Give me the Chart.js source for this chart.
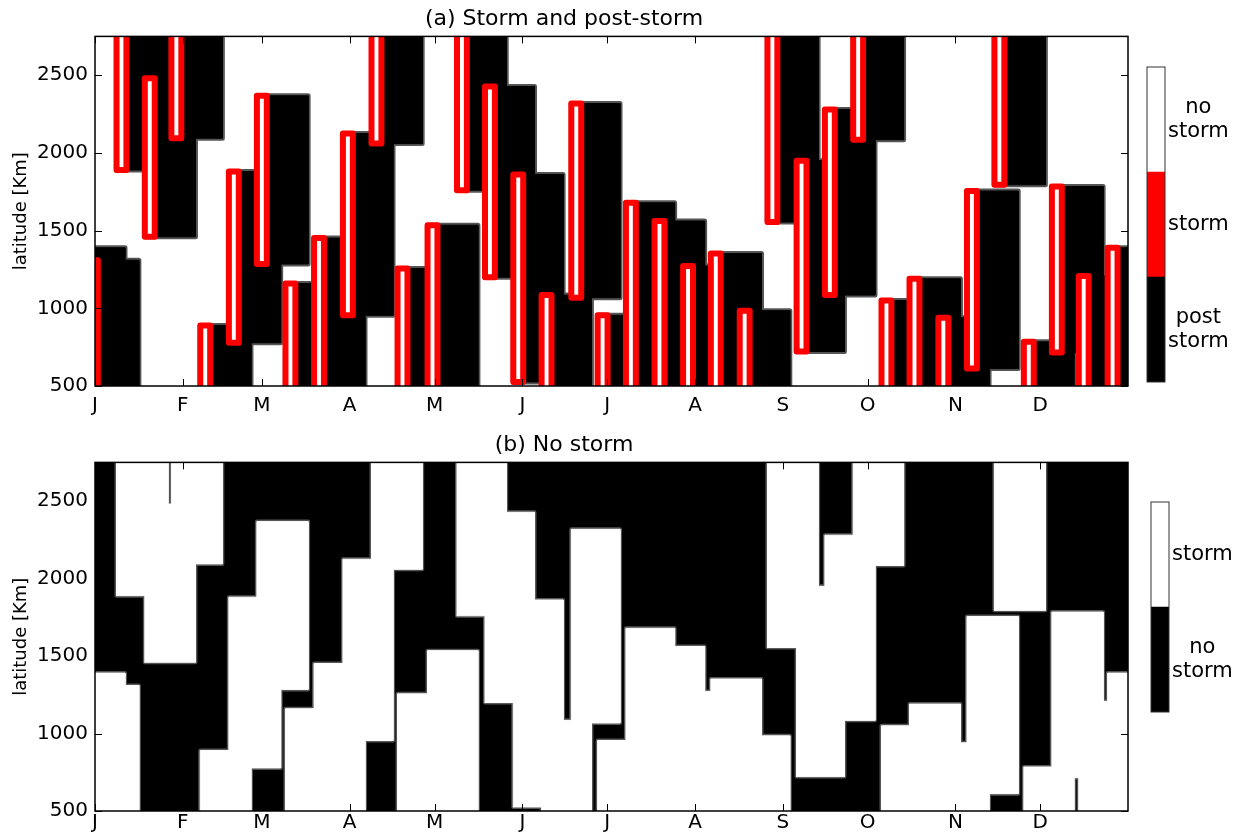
<!DOCTYPE html>
<html>
<head>
<meta charset="utf-8">
<script src="https://cdn.jsdelivr.net/npm/chart.js@4.4.1/dist/chart.umd.min.js"></script>
<style>
html,body{margin:0;padding:0;background:#fff;}
#wrap{position:relative;width:1247px;height:838px;background:#fff;overflow:hidden;}
canvas{position:absolute;}
</style>
</head>
<body>
<div id="wrap">
<canvas id="ca" width="1140" height="426" style="left:0px;top:0px"></canvas>
<canvas id="cb" width="1140" height="412" style="left:0px;top:426px"></canvas>
<canvas id="cba" width="107" height="375" style="left:1140px;top:37px"></canvas>
<canvas id="cbb" width="103" height="270" style="left:1144px;top:472px"></canvas>
</div>
<script>
// ---------------- data ----------------
const monthDays   = [0, 31, 59, 90, 120, 151, 181, 212, 243, 273, 304, 334];
const monthLabels = ['J','F','M','A','M','J','J','A','S','O','N','D'];
const latTicks    = [500, 1000, 1500, 2000, 2500];

// storms (day of year, latitude in km) and end of post-storm period (day)
const stormStart = [0, 7.6, 17.6, 27.0, 37.2, 47.3, 57.2, 67.3, 77.4, 87.6, 97.7, 106.9, 117.5, 127.9, 137.8, 147.8, 157.8, 168.3, 177.6, 187.6, 197.7, 207.8, 217.6, 227.8, 237.6, 247.9, 257.9, 267.9, 277.9, 287.8, 298.0, 308.1, 317.8, 328.2, 338.1, 347.6, 357.8];
const stormEnd   = [1.0, 11.1, 21.1, 30.5, 40.7, 50.8, 60.7, 70.8, 80.9, 91.1, 101.2, 110.4, 121.0, 131.4, 141.3, 151.3, 161.3, 171.8, 181.1, 191.1, 201.2, 211.3, 221.1, 231.3, 241.1, 251.4, 261.4, 271.4, 281.4, 291.3, 301.5, 311.6, 321.3, 331.7, 341.6, 351.1, 361.3];
const stormLatLo = [500, 1890, 1460, 2095, 500, 778, 1285, 500, 500, 955, 2060, 500, 500, 1760, 1200, 526, 500, 1068, 500, 500, 500, 500, 500, 500, 1555, 722, 1085, 2085, 500, 500, 500, 612, 1795, 500, 715, 500, 500];
const stormLatHi = [1310, 2750, 2481, 2750, 890, 1880, 2368, 1160, 1452, 2125, 2750, 1256, 1535, 2750, 2428, 1862, 1085, 2318, 955, 1679, 1562, 1272, 1352, 985, 2750, 1950, 2280, 2750, 1050, 1190, 940, 1755, 2750, 784, 1784, 1208, 1390];
const postEnd    = [15.5, 25.8, 35.5, 45.0, 55.1, 65.6, 75.3, 85.5, 95.4, 105.3, 115.6, 125.0, 135.3, 145.3, 155.3, 165.4, 175.4, 185.5, 196.0, 204.8, 215.4, 225.0, 235.5, 245.5, 255.5, 264.8, 275.6, 285.7, 296.0, 305.8, 315.9, 326.2, 335.8, 345.9, 356.2, 366.0, 375.6];

const cbLabelsA = [['post','storm'], 'storm', ['no','storm']];
const cbColorsA = ['#000000', '#ff0000', '#ffffff'];
const cbLabelsB = [['no','storm'], 'storm'];
const cbColorsB = ['#000000', '#ffffff'];

const X_MIN = 0, X_MAX = 365, Y_MIN = 500, Y_MAX = 2750;

// ---------------- helpers ----------------
Chart.defaults.font.family = "'DejaVu Sans', 'Liberation Sans', sans-serif";
Chart.defaults.color = '#000';

function rectPts(x0, x1, y0, y1) {
  return [{x:x0,y:y0},{x:x0,y:y1},{x:x1,y:y1},{x:x1,y:y0},{x:x0,y:y0}];
}
function extLat(lo, hi) { // push edges that sit on the frame outside so they are clipped
  return [lo <= Y_MIN ? Y_MIN - 200 : lo, hi >= Y_MAX ? Y_MAX + 200 : hi];
}
function postRects() {
  const r = [];
  for (let i = 0; i < stormStart.length; i++) {
    const [a, b] = extLat(stormLatLo[i], stormLatHi[i]);
    const x0 = stormStart[i] <= X_MIN ? X_MIN - 10 : stormStart[i];
    r.push([x0, postEnd[i], a, b]);
    if (postEnd[i] > X_MAX) r.push([X_MIN - 10, postEnd[i] - X_MAX, a, b]);
  }
  return r;
}
function lineDs(pts, o) {
  return Object.assign({type:'line', data: pts, pointRadius: 0, tension: 0, clip: 0,
    borderJoinStyle: 'round', borderCapStyle: 'round', fill: false}, o);
}

// ---------------- datasets panel (a) ----------------
const rects = postRects();
const dsA = [];
rects.forEach(r => dsA.push(lineDs(rectPts(...r), {borderColor:'#555', borderWidth:5, order:3})));
rects.forEach(r => dsA.push(lineDs(rectPts(...r), {borderColor:'#000', borderWidth:1, backgroundColor:'#000', fill:'shape', order:2})));
for (let i = 0; i < stormStart.length; i++) {
  const [a, b] = extLat(stormLatLo[i], stormLatHi[i]);
  dsA.push(lineDs(rectPts(stormStart[i], stormEnd[i], a, b),
    {borderColor:'#ff0000', borderWidth:6, backgroundColor:'#ffffff', fill:'shape', order:1}));
}

// ---------------- datasets panel (b) ----------------
const dsB = [];
dsB.push(lineDs(rectPts(X_MIN - 20, X_MAX + 20, Y_MIN - 300, Y_MAX + 300),
  {borderColor:'#000', borderWidth:1, backgroundColor:'#000', fill:'shape', order:4}));
rects.forEach(r => dsB.push(lineDs(rectPts(...r), {borderColor:'#555', borderWidth:4, order:3})));
rects.forEach(r => dsB.push(lineDs(rectPts(...r), {borderColor:'#fff', borderWidth:1, backgroundColor:'#fff', fill:'shape', order:2})));

// ---------------- plugins ----------------
const framePlugin = {
  id: 'frame',
  afterDraw(chart, args, opts) {
    const {ctx, chartArea: {left, right, top, bottom}} = chart;
    ctx.save();
    ctx.strokeStyle = '#000';
    ctx.lineWidth = 1;
    if (opts.ticks) {
      const {x, y} = chart.scales;
      ctx.beginPath();
      y.ticks.forEach(t => {
        const py = Math.round(y.getPixelForValue(t.value)) + 0.5;
        ctx.moveTo(left, py); ctx.lineTo(left + 7, py);
        ctx.moveTo(right - 7, py); ctx.lineTo(right, py);
      });
      x.ticks.forEach(t => {
        const px = Math.round(x.getPixelForValue(t.value)) + 0.5;
        ctx.moveTo(px, bottom); ctx.lineTo(px, bottom - 7);
        ctx.moveTo(px, top); ctx.lineTo(px, top + 7);
      });
      ctx.stroke();
    }
    ctx.lineWidth = opts.width || 1.5;
    ctx.strokeStyle = opts.color || '#000';
    ctx.strokeRect(left, top, right - left, bottom - top);
    ctx.restore();
  }
};

function mainChart(id, title, datasets, xAxisH, xPad) {
  return new Chart(document.getElementById(id), {
    type: 'line',
    data: {datasets},
    plugins: [framePlugin],
    options: {
      responsive: false, animation: false, devicePixelRatio: 1, events: [],
      layout: {padding: {left: 0, right: 12, top: 0, bottom: 0}},
      plugins: {
        legend: {display: false}, tooltip: {enabled: false},
        title: {display: true, text: title, color: '#000',
          font: {size: 22, weight: 'normal'}, padding: {top: 6, bottom: 4}},
        frame: {ticks: true, width: 1.5}
      },
      scales: {
        x: {
          type: 'linear', min: X_MIN, max: X_MAX,
          afterBuildTicks: s => { s.ticks = monthDays.map(v => ({value: v})); },
          afterFit: s => { s.height = xAxisH; },
          ticks: {autoSkip: false, maxRotation: 0, padding: xPad, font: {size: 20}, color: '#000',
            callback: (v, i) => monthLabels[i]},
          grid: {display: false, drawTicks: false}, border: {display: false}
        },
        y: {
          type: 'linear', min: Y_MIN, max: Y_MAX,
          afterBuildTicks: s => { s.ticks = latTicks.map(v => ({value: v})); },
          afterFit: s => { s.width = 95; },
          ticks: {padding: 7, font: {size: 20}, color: '#000', callback: v => String(v)},
          grid: {display: false, drawTicks: false}, border: {display: false},
          title: {display: true, text: 'latitude [Km]', color: '#000', font: {size: 18},
            padding: {top: 11, bottom: 0}}
        }
      }
    }
  });
}

function colorBar(id, labels, colors, axisWidth) {
  return new Chart(document.getElementById(id), {
    type: 'bar',
    data: {
      labels: [''],
      datasets: colors.map(c => ({data: [1], backgroundColor: c, borderWidth: 0,
        barPercentage: 1, categoryPercentage: 1}))
    },
    plugins: [framePlugin],
    options: {
      responsive: false, animation: false, devicePixelRatio: 1, events: [],
      layout: {padding: {left: 7, right: 0, top: 30, bottom: 30}},
      plugins: {legend: {display: false}, tooltip: {enabled: false},
        frame: {ticks: false, width: 1, color: '#333'}},
      scales: {
        x: {display: false, stacked: true},
        y: {
          position: 'right', stacked: true, min: 0, max: colors.length,
          afterBuildTicks: s => { s.ticks = labels.map((l, i) => ({value: i + 0.5})); },
          afterFit: s => { s.width = axisWidth; },
          ticks: {crossAlign: 'center', padding: 3, font: {size: 21, lineHeight: 1.1}, color: '#000',
            callback: (v, i) => labels[i]},
          grid: {display: false, drawTicks: false}, border: {display: false}
        }
      }
    }
  });
}

mainChart('ca', '(a) Storm and post-storm', dsA, 40, 8);
mainChart('cb', '(b) No storm', dsB, 27, 0);
colorBar('cba', cbLabelsA, cbColorsA, 82);
colorBar('cbb', cbLabelsB, cbColorsB, 78);
</script>
</body>
</html>
